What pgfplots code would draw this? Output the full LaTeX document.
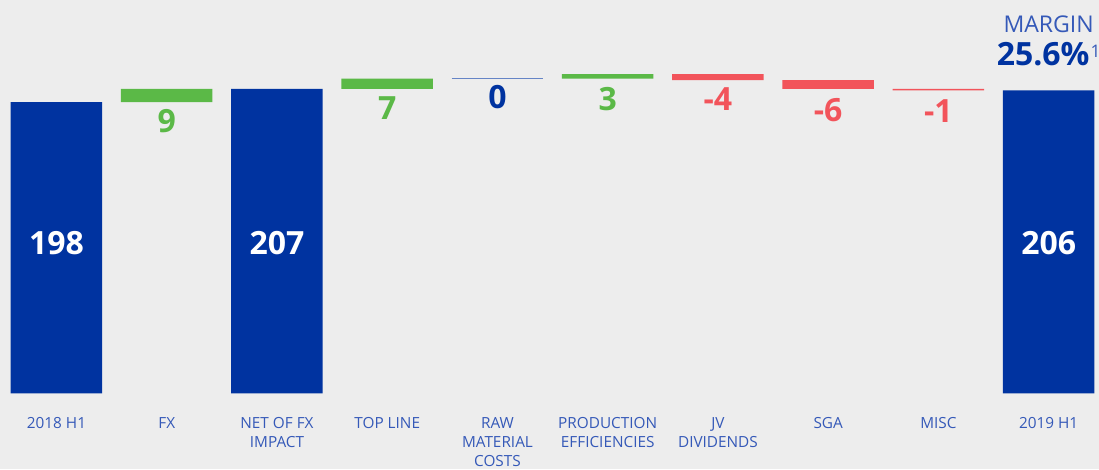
\documentclass[border=0pt]{standalone}
\usepackage{pgfplots}
\pgfplotsset{compat=1.18}
\usepackage{fontspec}
\setmainfont{Open Sans}
\definecolor{navy}{HTML}{0033A0}
\definecolor{gr}{HTML}{5BB947}
\definecolor{rd}{HTML}{F2545B}
\definecolor{lbl}{HTML}{3559B8}
\definecolor{bg}{HTML}{EDEDED}
\pgfplotsset{
  common/.style={width=824.25pt, height=351.75pt, scale only axis,
    xmin=-0.5125, xmax=9.4567, ymin=-51.5, ymax=267.4},
  lab/.style={only marks, mark=none, nodes near coords, point meta=explicit symbolic,
    nodes near coords align={anchor=base}, every node near coord/.append style={inner sep=0pt, #1}},
}
\begin{document}
\begin{tikzpicture}
\begin{axis}[common, ybar stacked, bar width=0.83,
  axis background/.style={fill=bg},
  axis x line*=bottom, axis y line=none, x axis line style={draw=none},
  major tick length=0pt, ytick=\empty,
  xtick={0,...,9},
  xticklabels={2018 H1, FX, {NET OF FX\\IMPACT}, TOP LINE, {RAW\\MATERIAL\\COSTS}, {PRODUCTION\\EFFICIENCIES}, {JV\\DIVIDENDS}, SGA, MISC, 2019 H1},
  xticklabel style={align=center, anchor=north, inner sep=0pt, yshift=39pt, text=lbl, font=\fontsize{11.5}{14.4}\selectfont},
]
\addplot[draw=none, fill=none] coordinates {(0,0)(1,198)(2,0)(3,207)(4,214)(5,214)(6,213)(7,207)(8,206)(9,0)};
\addplot[draw=none, fill=navy] coordinates {(0,198)(1,0)(2,207)(3,0)(4,0)(5,0)(6,0)(7,0)(8,0)(9,206)};
\addplot[draw=none, fill=gr] coordinates {(0,0)(1,9)(2,0)(3,7)(4,0)(5,3)(6,0)(7,0)(8,0)(9,0)};
\addplot[draw=none, fill=rd] coordinates {(0,0)(1,0)(2,0)(3,0)(4,0)(5,0)(6,4)(7,6)(8,1)(9,0)};
\end{axis}
\begin{axis}[common, hide axis, clip=false]
\addplot[navy!60, line width=0.9pt] coordinates {(3.585,214)(4.415,214)};
\addplot[lab={text=white, font=\fontsize{24}{24}\selectfont\bfseries}] coordinates {(0,94.5)[198] (2,94.5)[207] (9,94.5)[206]};
\addplot[lab={text=gr, font=\fontsize{24}{24}\selectfont\bfseries}] coordinates {(1,177.3)[9] (3,186.3)[7] (5,192.6)[3]};
\addplot[lab={text=navy, font=\fontsize{24}{24}\selectfont\bfseries}] coordinates {(4,193.3)[0]};
\addplot[lab={text=rd, font=\fontsize{24}{24}\selectfont\bfseries}] coordinates {(6,192.1)[-4] (7,185)[-6] (8,184.2)[-1]};
\addplot[lab={text=lbl, font=\fontsize{17.3}{17.3}\selectfont}] coordinates {(9,245.4)[MARGIN]};
\addplot[lab={text=navy, font=\fontsize{24}{24}\selectfont\bfseries, anchor=base east}] coordinates {(9.373,223.2)[25.6\%]};
\addplot[lab={text=lbl, font=\fontsize{13}{13}\selectfont, anchor=base west}] coordinates {(9.378,228.4)[1]};
\end{axis}
\pgfresetboundingbox
\useasboundingbox (current axis.south west) rectangle (current axis.north east);
\end{tikzpicture}
\end{document}
